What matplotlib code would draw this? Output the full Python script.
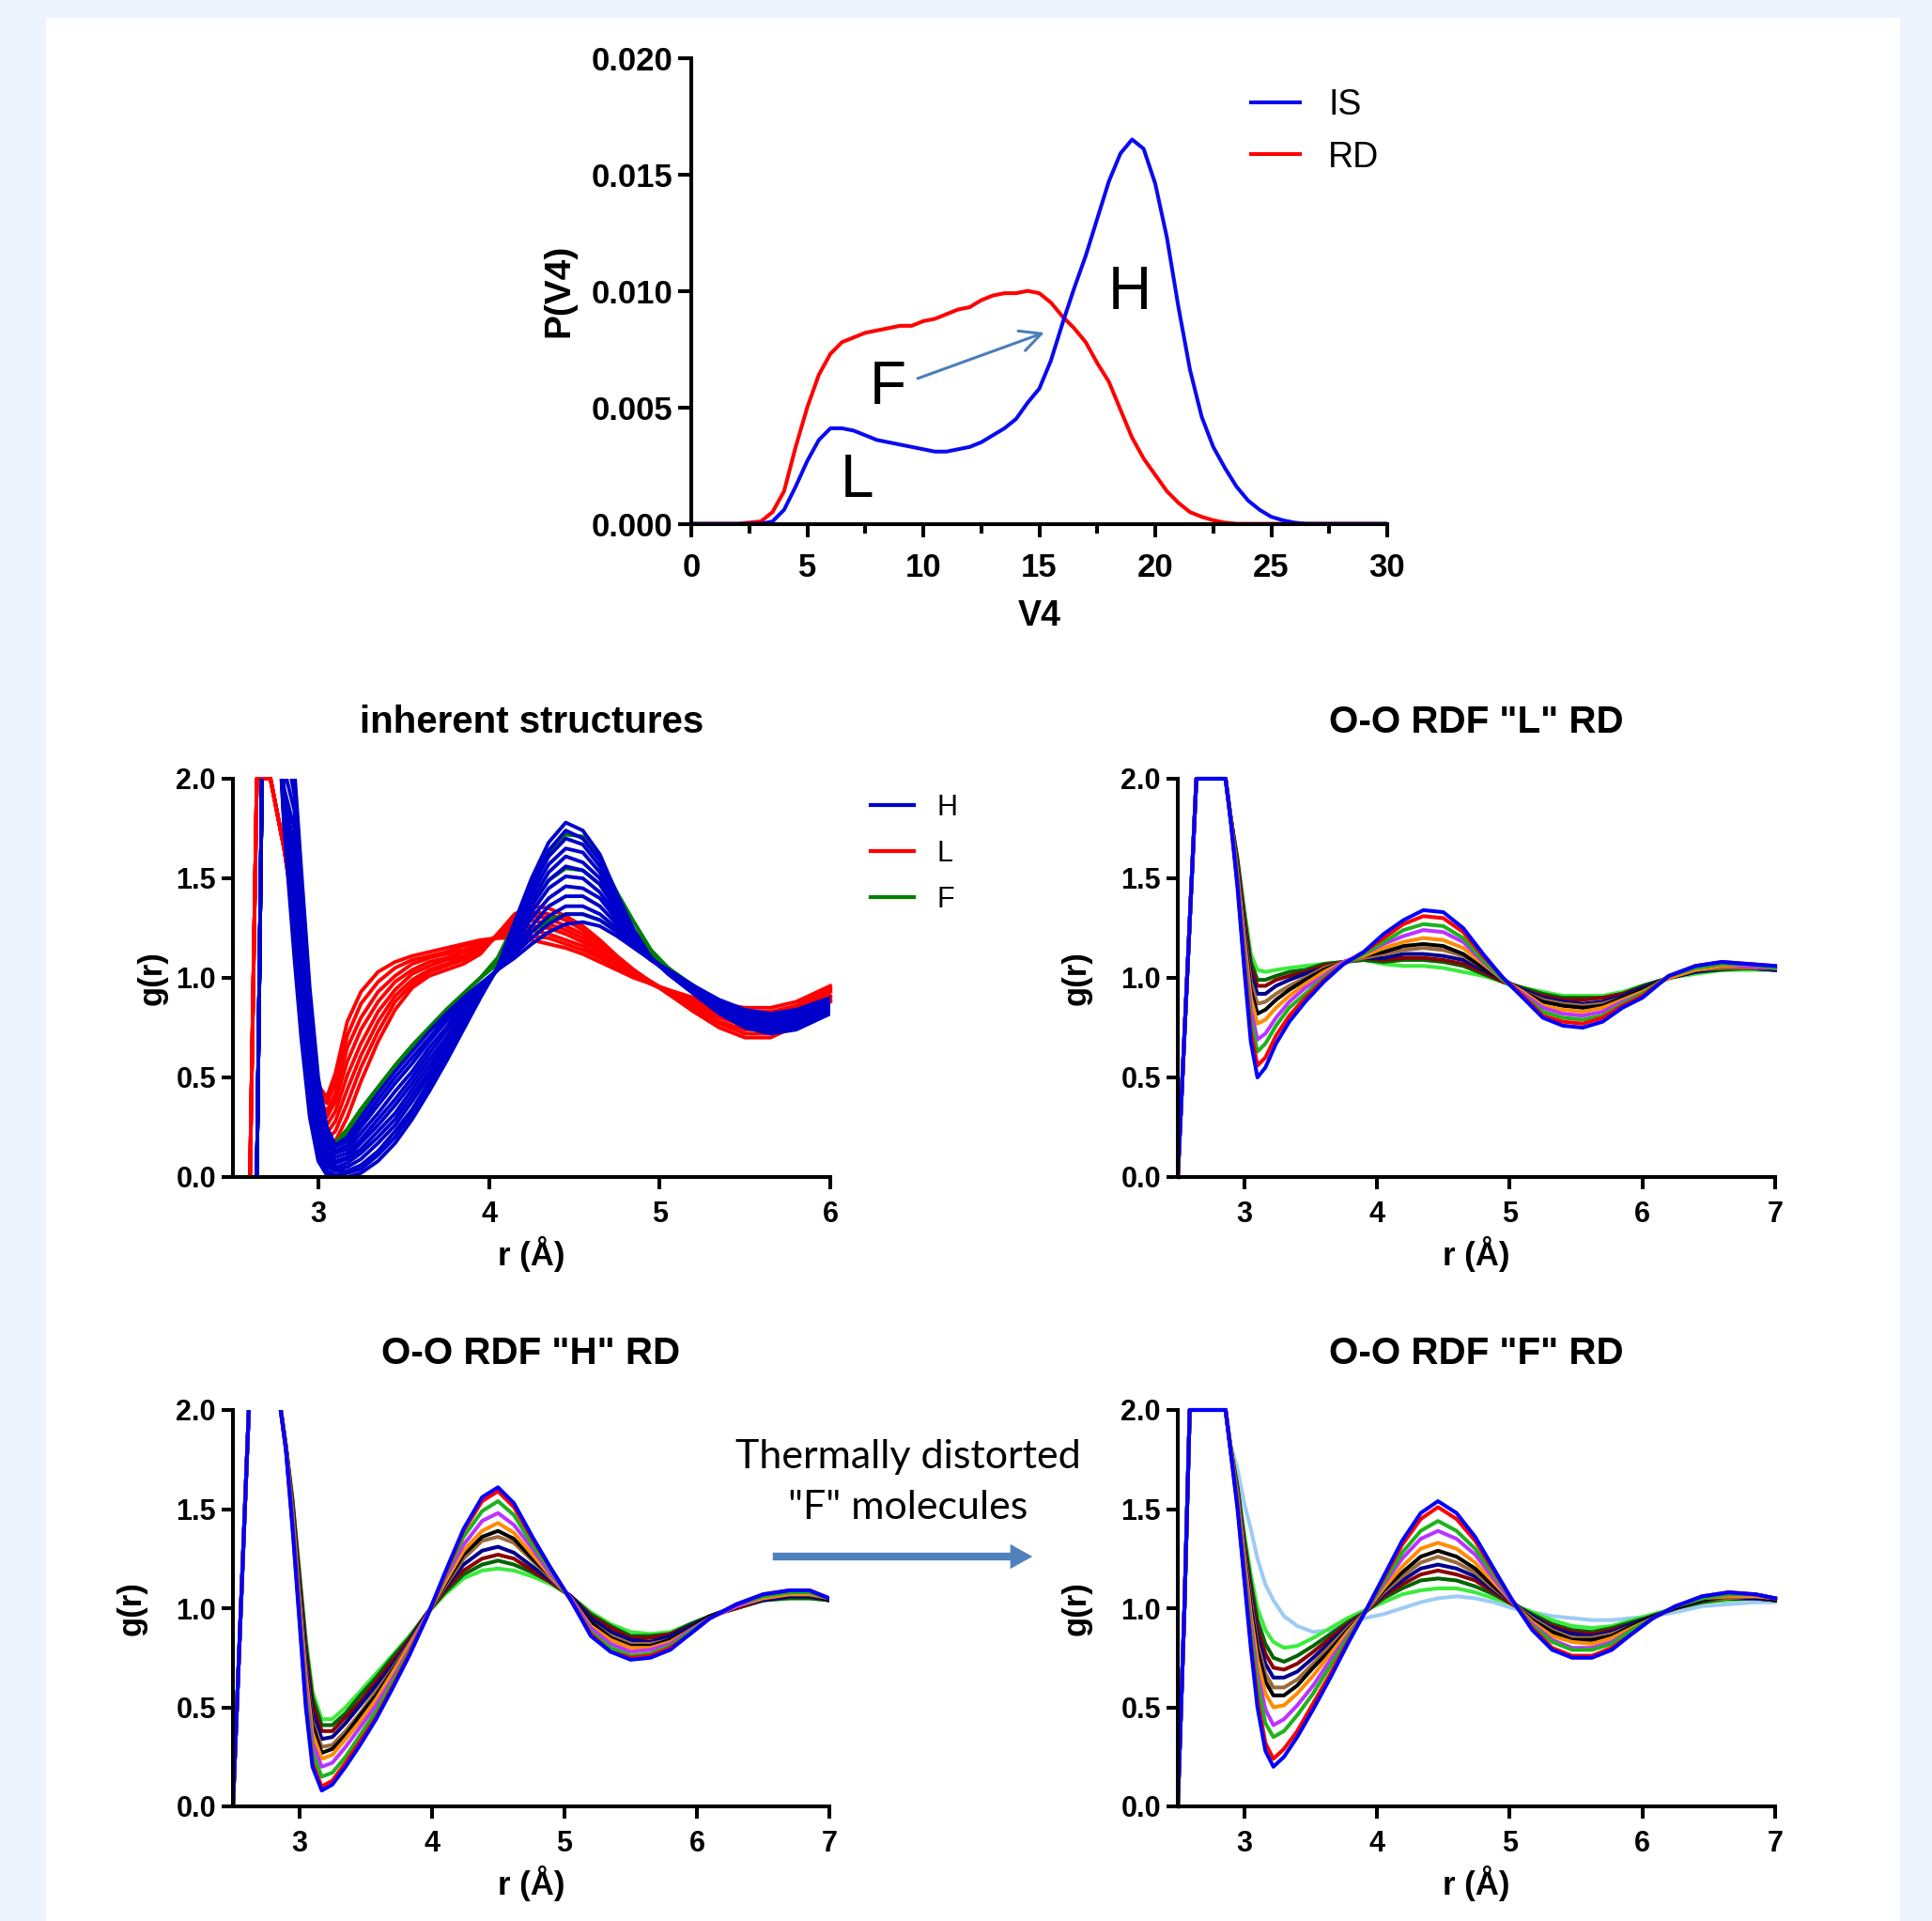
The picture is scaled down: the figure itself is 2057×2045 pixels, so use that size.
import matplotlib
matplotlib.use("Agg")
import matplotlib.pyplot as plt
from matplotlib.patches import Rectangle, FancyArrowPatch
from matplotlib.lines import Line2D
from matplotlib.ticker import FormatStrFormatter, MultipleLocator

# ---------------- data: top panel, P(V4) ----------------
V4 = [0, 1, 2, 3, 3.5, 4, 4.5, 5, 5.5, 6, 6.5, 7, 7.5, 8, 8.5, 9, 9.5, 10, 10.5, 11,
      11.5, 12, 12.5, 13, 13.5, 14, 14.5, 15, 15.5, 16, 16.5, 17, 17.5, 18, 18.5, 19,
      19.5, 20, 20.5, 21, 21.5, 22, 22.5, 23, 23.5, 24, 24.5, 25, 25.5, 26, 26.5, 27,
      28, 29, 30]
P_IS = [0, 0, 0, 0, 0.0001, 0.0006, 0.0016, 0.0027, 0.0036, 0.0041, 0.0041, 0.0040,
        0.0038, 0.0036, 0.0035, 0.0034, 0.0033, 0.0032, 0.0031, 0.0031, 0.0032, 0.0033,
        0.0035, 0.0038, 0.0041, 0.0045, 0.0052, 0.0058, 0.0070, 0.0086, 0.0101, 0.0115,
        0.0131, 0.0147, 0.0159, 0.0165, 0.0161, 0.0146, 0.0123, 0.0093, 0.0066, 0.0046,
        0.0033, 0.0024, 0.0016, 0.0010, 0.0006, 0.0003, 0.00015, 0.00005, 0, 0, 0, 0, 0]
P_RD = [0, 0, 0, 0.0001, 0.0005, 0.0014, 0.0033, 0.0050, 0.0064, 0.0073, 0.0078, 0.0080,
        0.0082, 0.0083, 0.0084, 0.0085, 0.0085, 0.0087, 0.0088, 0.0090, 0.0092, 0.0093,
        0.0096, 0.0098, 0.0099, 0.0099, 0.0100, 0.0099, 0.0095, 0.0089, 0.0084, 0.0078,
        0.0069, 0.0061, 0.0049, 0.0037, 0.0028, 0.0021, 0.0014, 0.0009, 0.0005, 0.0003,
        0.00015, 0.00005, 0, 0, 0, 0, 0, 0, 0, 0, 0, 0, 0]
TOP_LABELS = ["IS", "RD"]
TOP_NOTES = [("H", 18.91, 0.00991), ("F", 8.46, 0.00583), ("L", 7.13, 0.00184)]
TOP_ARROW = [(9.76, 0.00624), (15.22, 0.00821)]

# ---------------- data: inherent structures ----------------
IS_r = [2.50, 2.60, 2.64, 2.67, 2.72, 2.80, 2.86, 2.90, 2.95, 3.00, 3.05, 3.10, 3.17,
        3.25, 3.35, 3.45, 3.55, 3.65, 3.75, 3.85, 3.95, 4.05, 4.15, 4.25, 4.35, 4.45,
        4.55, 4.65, 4.75, 4.85, 4.95, 5.05, 5.20, 5.35, 5.50, 5.65, 5.80, 6.00]
IS_head_H = [0.00, 0.00, 0.00, 2.00, 3.00]
IS_head_L = [0.00, 0.00, 2.00, 2.00, 2.00]
IS_H = [
    [1.75, 1.10, 0.70, 0.30, 0.08, 0.01, 0.00, 0.00, 0.02, 0.08, 0.17, 0.29, 0.43, 0.58, 0.74, 0.90, 1.05, 1.28, 1.50, 1.68, 1.78, 1.74, 1.62, 1.42, 1.24, 1.10, 1.02, 0.92, 0.82, 0.75, 0.72, 0.74, 0.82],
    [1.77, 1.17, 0.77, 0.35, 0.11, 0.03, 0.01, 0.02, 0.04, 0.11, 0.20, 0.32, 0.45, 0.60, 0.75, 0.91, 1.05, 1.27, 1.47, 1.64, 1.74, 1.70, 1.59, 1.40, 1.23, 1.10, 1.02, 0.92, 0.83, 0.76, 0.73, 0.75, 0.83],
    [1.79, 1.24, 0.84, 0.40, 0.15, 0.05, 0.03, 0.03, 0.06, 0.13, 0.23, 0.34, 0.48, 0.62, 0.77, 0.91, 1.05, 1.25, 1.45, 1.61, 1.70, 1.67, 1.56, 1.39, 1.23, 1.10, 1.02, 0.93, 0.83, 0.76, 0.74, 0.76, 0.83],
    [1.81, 1.33, 0.91, 0.46, 0.19, 0.07, 0.04, 0.05, 0.09, 0.17, 0.26, 0.38, 0.51, 0.64, 0.78, 0.92, 1.05, 1.24, 1.42, 1.57, 1.65, 1.63, 1.53, 1.37, 1.22, 1.10, 1.03, 0.93, 0.84, 0.77, 0.75, 0.77, 0.84],
    [1.84, 1.41, 0.99, 0.52, 0.22, 0.09, 0.05, 0.07, 0.12, 0.20, 0.29, 0.41, 0.53, 0.66, 0.79, 0.92, 1.05, 1.22, 1.39, 1.53, 1.61, 1.58, 1.50, 1.35, 1.21, 1.10, 1.03, 0.93, 0.84, 0.78, 0.75, 0.77, 0.85],
    [1.86, 1.49, 1.07, 0.58, 0.26, 0.11, 0.07, 0.09, 0.14, 0.23, 0.32, 0.44, 0.56, 0.68, 0.81, 0.93, 1.05, 1.20, 1.36, 1.49, 1.56, 1.54, 1.47, 1.33, 1.20, 1.10, 1.03, 0.94, 0.85, 0.79, 0.76, 0.78, 0.85],
    [1.88, 1.57, 1.14, 0.64, 0.30, 0.13, 0.08, 0.10, 0.17, 0.26, 0.36, 0.47, 0.59, 0.70, 0.82, 0.94, 1.04, 1.19, 1.33, 1.45, 1.51, 1.50, 1.43, 1.31, 1.19, 1.09, 1.03, 0.94, 0.86, 0.80, 0.77, 0.79, 0.86],
    [1.91, 1.66, 1.23, 0.70, 0.34, 0.16, 0.10, 0.12, 0.19, 0.29, 0.39, 0.50, 0.62, 0.73, 0.84, 0.94, 1.04, 1.17, 1.30, 1.40, 1.46, 1.45, 1.40, 1.29, 1.18, 1.09, 1.03, 0.94, 0.86, 0.81, 0.78, 0.80, 0.87],
    [1.95, 1.75, 1.31, 0.77, 0.38, 0.18, 0.12, 0.14, 0.22, 0.32, 0.43, 0.53, 0.65, 0.75, 0.86, 0.95, 1.04, 1.15, 1.26, 1.36, 1.41, 1.41, 1.36, 1.27, 1.18, 1.09, 1.03, 0.95, 0.87, 0.81, 0.79, 0.81, 0.88],
    [2.05, 1.84, 1.40, 0.83, 0.42, 0.21, 0.13, 0.16, 0.25, 0.36, 0.47, 0.57, 0.68, 0.78, 0.87, 0.96, 1.04, 1.13, 1.23, 1.31, 1.36, 1.36, 1.32, 1.25, 1.17, 1.09, 1.04, 0.95, 0.88, 0.82, 0.80, 0.82, 0.89],
    [2.20, 1.92, 1.47, 0.89, 0.46, 0.23, 0.15, 0.18, 0.27, 0.39, 0.50, 0.60, 0.70, 0.80, 0.89, 0.96, 1.04, 1.12, 1.20, 1.27, 1.32, 1.32, 1.29, 1.23, 1.16, 1.09, 1.04, 0.96, 0.88, 0.83, 0.81, 0.83, 0.89],
    [2.40, 2.05, 1.55, 0.95, 0.50, 0.25, 0.16, 0.20, 0.30, 0.42, 0.53, 0.63, 0.73, 0.82, 0.90, 0.97, 1.04, 1.10, 1.17, 1.23, 1.27, 1.28, 1.26, 1.21, 1.15, 1.09, 1.04, 0.96, 0.89, 0.84, 0.82, 0.84, 0.90],
]
IS_F = [
    [2.40, 1.95, 1.45, 0.85, 0.42, 0.22, 0.17, 0.22, 0.32, 0.43, 0.54, 0.64, 0.74, 0.83, 0.92, 1.00, 1.10, 1.27, 1.46, 1.62, 1.72, 1.71, 1.60, 1.43, 1.28, 1.14, 1.05, 0.94, 0.85, 0.78, 0.75, 0.77, 0.84],
    [2.40, 1.95, 1.45, 0.85, 0.42, 0.22, 0.17, 0.24, 0.34, 0.45, 0.56, 0.66, 0.75, 0.84, 0.92, 1.00, 1.09, 1.22, 1.37, 1.49, 1.55, 1.54, 1.47, 1.35, 1.24, 1.13, 1.05, 0.95, 0.86, 0.80, 0.77, 0.79, 0.86],
    [2.40, 1.95, 1.45, 0.85, 0.42, 0.22, 0.17, 0.24, 0.34, 0.45, 0.56, 0.66, 0.75, 0.84, 0.92, 1.00, 1.07, 1.15, 1.23, 1.29, 1.32, 1.32, 1.29, 1.24, 1.18, 1.11, 1.05, 0.96, 0.88, 0.82, 0.80, 0.82, 0.88],
]
IS_L = [
    [1.65, 1.35, 1.15, 0.75, 0.46, 0.40, 0.52, 0.78, 0.93, 1.03, 1.08, 1.11, 1.13, 1.15, 1.17, 1.19, 1.20, 1.20, 1.19, 1.17, 1.15, 1.12, 1.08, 1.04, 1.00, 0.97, 0.94, 0.90, 0.87, 0.85, 0.85, 0.88, 0.96],
    [1.65, 1.34, 1.13, 0.72, 0.43, 0.37, 0.47, 0.71, 0.87, 0.98, 1.05, 1.09, 1.11, 1.13, 1.16, 1.18, 1.20, 1.22, 1.21, 1.20, 1.17, 1.14, 1.10, 1.05, 1.01, 0.97, 0.94, 0.89, 0.85, 0.83, 0.83, 0.86, 0.95],
    [1.65, 1.34, 1.11, 0.69, 0.39, 0.33, 0.42, 0.65, 0.80, 0.93, 1.01, 1.07, 1.10, 1.12, 1.14, 1.17, 1.21, 1.23, 1.24, 1.22, 1.19, 1.16, 1.11, 1.06, 1.01, 0.97, 0.93, 0.88, 0.84, 0.81, 0.81, 0.85, 0.94],
    [1.65, 1.33, 1.09, 0.67, 0.36, 0.30, 0.38, 0.58, 0.74, 0.88, 0.98, 1.04, 1.08, 1.10, 1.13, 1.16, 1.21, 1.25, 1.26, 1.25, 1.22, 1.18, 1.13, 1.07, 1.02, 0.97, 0.93, 0.87, 0.82, 0.79, 0.79, 0.83, 0.93],
    [1.65, 1.32, 1.06, 0.64, 0.32, 0.26, 0.33, 0.51, 0.67, 0.83, 0.94, 1.02, 1.06, 1.09, 1.11, 1.15, 1.21, 1.27, 1.29, 1.27, 1.24, 1.20, 1.14, 1.08, 1.02, 0.98, 0.93, 0.86, 0.80, 0.76, 0.76, 0.81, 0.91],
    [1.65, 1.31, 1.04, 0.61, 0.29, 0.22, 0.28, 0.44, 0.61, 0.78, 0.91, 0.99, 1.04, 1.07, 1.10, 1.14, 1.21, 1.29, 1.31, 1.30, 1.26, 1.22, 1.16, 1.09, 1.03, 0.98, 0.93, 0.85, 0.78, 0.74, 0.74, 0.79, 0.90],
    [1.65, 1.31, 1.02, 0.58, 0.26, 0.19, 0.23, 0.37, 0.55, 0.73, 0.88, 0.97, 1.03, 1.06, 1.09, 1.13, 1.22, 1.30, 1.33, 1.32, 1.29, 1.24, 1.17, 1.10, 1.03, 0.98, 0.92, 0.84, 0.77, 0.72, 0.72, 0.78, 0.89],
    [1.65, 1.30, 1.00, 0.55, 0.22, 0.15, 0.18, 0.30, 0.48, 0.68, 0.84, 0.95, 1.01, 1.04, 1.07, 1.12, 1.22, 1.32, 1.36, 1.35, 1.31, 1.26, 1.19, 1.11, 1.04, 0.98, 0.92, 0.83, 0.75, 0.70, 0.70, 0.76, 0.88],
]
IS_LEGEND = ["H", "L", "F"]

# ---------------- data: O-O RDF "L" RD ----------------
L_r = [2.50, 2.57, 2.64, 2.75, 2.86, 2.90, 2.95, 3.00, 3.05, 3.10, 3.16, 3.24, 3.34, 3.46,
       3.60, 3.75, 3.90, 4.05, 4.20, 4.35, 4.50, 4.65, 4.80, 4.95, 5.10, 5.25, 5.40, 5.55,
       5.70, 5.85, 6.00, 6.20, 6.40, 6.60, 6.80, 7.00]
L_head = [0.00, 1.00, 2.00, 2.00, 2.00]
L_rows = [
    [1.78, 1.45, 1.05, 0.68, 0.50, 0.55, 0.67, 0.78, 0.88, 0.98, 1.07, 1.13, 1.22, 1.29, 1.34, 1.33, 1.25, 1.12, 1.00, 0.90, 0.80, 0.76, 0.75, 0.78, 0.85, 0.90, 1.01, 1.06, 1.08, 1.07, 1.06],
    [1.78, 1.47, 1.08, 0.73, 0.56, 0.60, 0.71, 0.81, 0.90, 0.99, 1.07, 1.13, 1.20, 1.27, 1.31, 1.30, 1.23, 1.11, 1.00, 0.91, 0.81, 0.78, 0.77, 0.80, 0.86, 0.91, 1.01, 1.06, 1.08, 1.07, 1.06],
    [1.79, 1.49, 1.12, 0.79, 0.63, 0.67, 0.76, 0.85, 0.92, 1.00, 1.07, 1.12, 1.18, 1.24, 1.27, 1.26, 1.20, 1.09, 0.99, 0.91, 0.83, 0.80, 0.79, 0.81, 0.87, 0.92, 1.01, 1.05, 1.07, 1.07, 1.05],
    [1.79, 1.50, 1.16, 0.84, 0.69, 0.72, 0.80, 0.88, 0.95, 1.01, 1.08, 1.12, 1.17, 1.21, 1.24, 1.23, 1.18, 1.08, 0.99, 0.92, 0.85, 0.82, 0.81, 0.83, 0.88, 0.92, 1.01, 1.05, 1.07, 1.06, 1.05],
    [1.79, 1.52, 1.20, 0.90, 0.77, 0.79, 0.85, 0.91, 0.97, 1.03, 1.08, 1.11, 1.15, 1.18, 1.20, 1.19, 1.15, 1.07, 0.99, 0.93, 0.86, 0.84, 0.83, 0.85, 0.89, 0.93, 1.00, 1.04, 1.06, 1.06, 1.05],
    [1.79, 1.54, 1.23, 0.94, 0.82, 0.84, 0.89, 0.94, 0.99, 1.04, 1.08, 1.11, 1.13, 1.16, 1.17, 1.16, 1.12, 1.05, 0.99, 0.93, 0.88, 0.86, 0.85, 0.86, 0.90, 0.94, 1.00, 1.04, 1.06, 1.06, 1.05],
    [1.79, 1.55, 1.25, 0.98, 0.87, 0.88, 0.92, 0.96, 1.00, 1.05, 1.08, 1.10, 1.12, 1.14, 1.15, 1.14, 1.11, 1.05, 0.99, 0.93, 0.89, 0.87, 0.86, 0.87, 0.90, 0.94, 1.00, 1.04, 1.05, 1.05, 1.05],
    [1.80, 1.57, 1.28, 1.02, 0.92, 0.92, 0.96, 0.99, 1.02, 1.05, 1.08, 1.10, 1.10, 1.12, 1.12, 1.11, 1.09, 1.04, 0.99, 0.94, 0.90, 0.88, 0.87, 0.88, 0.91, 0.95, 1.00, 1.03, 1.05, 1.05, 1.04],
    [1.80, 1.58, 1.31, 1.05, 0.96, 0.96, 0.99, 1.01, 1.03, 1.06, 1.08, 1.10, 1.09, 1.10, 1.10, 1.09, 1.07, 1.03, 0.98, 0.94, 0.91, 0.89, 0.89, 0.90, 0.92, 0.95, 1.00, 1.03, 1.05, 1.05, 1.04],
    [1.80, 1.59, 1.32, 1.08, 0.99, 0.99, 1.01, 1.03, 1.04, 1.07, 1.08, 1.09, 1.08, 1.09, 1.09, 1.08, 1.06, 1.02, 0.98, 0.95, 0.92, 0.90, 0.90, 0.90, 0.92, 0.96, 1.00, 1.03, 1.04, 1.05, 1.04],
    [1.80, 1.60, 1.35, 1.12, 1.04, 1.03, 1.04, 1.05, 1.06, 1.07, 1.08, 1.09, 1.07, 1.06, 1.06, 1.05, 1.03, 1.01, 0.98, 0.95, 0.93, 0.91, 0.91, 0.91, 0.93, 0.96, 1.00, 1.02, 1.04, 1.04, 1.04],
]

# ---------------- data: O-O RDF "H" RD ----------------
H_r = [2.50, 2.56, 2.62, 2.70, 2.82, 2.90, 2.95, 3.00, 3.05, 3.10, 3.17, 3.25, 3.35, 3.46,
       3.58, 3.70, 3.83, 3.96, 4.10, 4.24, 4.38, 4.50, 4.62, 4.76, 4.90, 5.05, 5.20, 5.35,
       5.50, 5.65, 5.80, 5.95, 6.10, 6.30, 6.50, 6.70, 6.85, 7.00]
H_head = [0.00, 1.00, 2.00, 3.20, 2.20]
H_rows = [
    [1.80, 1.40, 0.95, 0.50, 0.20, 0.08, 0.11, 0.20, 0.31, 0.44, 0.59, 0.76, 0.95, 1.18, 1.40, 1.56, 1.61, 1.53, 1.36, 1.20, 1.04, 0.86, 0.78, 0.74, 0.75, 0.79, 0.87, 0.95, 1.02, 1.07, 1.09, 1.09, 1.05],
    [1.80, 1.41, 0.97, 0.52, 0.22, 0.10, 0.13, 0.22, 0.33, 0.45, 0.60, 0.77, 0.95, 1.17, 1.39, 1.54, 1.59, 1.51, 1.35, 1.20, 1.04, 0.87, 0.78, 0.75, 0.76, 0.80, 0.87, 0.95, 1.02, 1.07, 1.09, 1.09, 1.05],
    [1.80, 1.43, 1.00, 0.56, 0.27, 0.15, 0.17, 0.25, 0.36, 0.48, 0.62, 0.78, 0.95, 1.16, 1.36, 1.49, 1.54, 1.47, 1.32, 1.19, 1.04, 0.88, 0.80, 0.76, 0.77, 0.81, 0.88, 0.95, 1.02, 1.06, 1.08, 1.08, 1.05],
    [1.81, 1.45, 1.03, 0.61, 0.32, 0.20, 0.22, 0.30, 0.40, 0.51, 0.64, 0.79, 0.96, 1.15, 1.32, 1.44, 1.48, 1.42, 1.30, 1.17, 1.05, 0.90, 0.82, 0.78, 0.79, 0.82, 0.89, 0.95, 1.01, 1.06, 1.08, 1.08, 1.05],
    [1.81, 1.47, 1.06, 0.66, 0.37, 0.24, 0.26, 0.34, 0.43, 0.54, 0.67, 0.81, 0.96, 1.13, 1.29, 1.39, 1.43, 1.38, 1.27, 1.16, 1.05, 0.91, 0.84, 0.80, 0.80, 0.83, 0.89, 0.95, 1.01, 1.05, 1.07, 1.07, 1.05],
    [1.81, 1.48, 1.09, 0.69, 0.41, 0.27, 0.29, 0.36, 0.46, 0.56, 0.68, 0.81, 0.96, 1.12, 1.27, 1.36, 1.39, 1.35, 1.25, 1.16, 1.05, 0.93, 0.85, 0.81, 0.81, 0.84, 0.90, 0.96, 1.01, 1.05, 1.07, 1.07, 1.04],
    [1.81, 1.49, 1.10, 0.71, 0.43, 0.30, 0.31, 0.38, 0.47, 0.58, 0.69, 0.82, 0.96, 1.11, 1.25, 1.34, 1.36, 1.33, 1.24, 1.15, 1.05, 0.93, 0.86, 0.82, 0.82, 0.84, 0.90, 0.96, 1.01, 1.05, 1.07, 1.07, 1.04],
    [1.81, 1.51, 1.13, 0.76, 0.48, 0.34, 0.35, 0.42, 0.51, 0.61, 0.71, 0.83, 0.97, 1.10, 1.22, 1.29, 1.31, 1.28, 1.21, 1.14, 1.06, 0.95, 0.88, 0.84, 0.83, 0.86, 0.91, 0.96, 1.01, 1.04, 1.06, 1.06, 1.04],
    [1.82, 1.53, 1.16, 0.79, 0.52, 0.38, 0.38, 0.45, 0.53, 0.63, 0.73, 0.84, 0.97, 1.09, 1.19, 1.25, 1.27, 1.25, 1.19, 1.13, 1.06, 0.96, 0.90, 0.85, 0.85, 0.87, 0.91, 0.96, 1.00, 1.04, 1.06, 1.06, 1.04],
    [1.82, 1.54, 1.18, 0.82, 0.55, 0.41, 0.41, 0.47, 0.56, 0.65, 0.75, 0.85, 0.97, 1.08, 1.17, 1.22, 1.24, 1.22, 1.18, 1.13, 1.06, 0.97, 0.91, 0.86, 0.86, 0.87, 0.92, 0.96, 1.00, 1.04, 1.05, 1.05, 1.04],
    [1.82, 1.55, 1.20, 0.85, 0.58, 0.44, 0.44, 0.50, 0.58, 0.67, 0.76, 0.86, 0.97, 1.07, 1.15, 1.19, 1.20, 1.19, 1.16, 1.12, 1.06, 0.98, 0.92, 0.88, 0.87, 0.88, 0.92, 0.96, 1.00, 1.04, 1.05, 1.05, 1.04],
]

# ---------------- data: O-O RDF "F" RD ----------------
F_r = [2.50, 2.55, 2.59, 2.72, 2.86, 2.90, 2.95, 3.00, 3.05, 3.10, 3.16, 3.22, 3.30, 3.40,
       3.52, 3.65, 3.78, 3.91, 4.05, 4.19, 4.33, 4.46, 4.60, 4.74, 4.88, 5.02, 5.17, 5.32,
       5.47, 5.62, 5.77, 5.92, 6.08, 6.25, 6.45, 6.65, 6.85, 7.00]
F_head = [0.00, 1.00, 2.00, 2.00, 2.00]
F_rows = [
    [1.78, 1.50, 1.15, 0.80, 0.50, 0.28, 0.20, 0.25, 0.35, 0.49, 0.65, 0.82, 0.98, 1.16, 1.34, 1.48, 1.54, 1.48, 1.36, 1.20, 1.04, 0.89, 0.79, 0.75, 0.75, 0.79, 0.87, 0.95, 1.01, 1.06, 1.08, 1.07, 1.05],
    [1.78, 1.51, 1.17, 0.83, 0.54, 0.32, 0.24, 0.29, 0.38, 0.52, 0.67, 0.83, 0.98, 1.15, 1.32, 1.45, 1.51, 1.45, 1.34, 1.19, 1.04, 0.90, 0.80, 0.76, 0.76, 0.80, 0.87, 0.95, 1.01, 1.06, 1.08, 1.07, 1.05],
    [1.79, 1.53, 1.20, 0.89, 0.62, 0.42, 0.35, 0.38, 0.46, 0.57, 0.71, 0.85, 0.98, 1.13, 1.28, 1.39, 1.44, 1.39, 1.30, 1.17, 1.04, 0.91, 0.83, 0.79, 0.79, 0.82, 0.89, 0.95, 1.01, 1.05, 1.07, 1.07, 1.05],
    [1.79, 1.54, 1.23, 0.93, 0.67, 0.49, 0.41, 0.44, 0.51, 0.61, 0.74, 0.86, 0.98, 1.12, 1.25, 1.35, 1.39, 1.35, 1.27, 1.15, 1.03, 0.92, 0.84, 0.80, 0.80, 0.83, 0.89, 0.95, 1.01, 1.05, 1.07, 1.07, 1.05],
    [1.79, 1.56, 1.26, 0.97, 0.74, 0.57, 0.50, 0.51, 0.57, 0.66, 0.77, 0.88, 0.98, 1.10, 1.21, 1.30, 1.33, 1.30, 1.23, 1.13, 1.03, 0.93, 0.86, 0.83, 0.82, 0.85, 0.90, 0.95, 1.01, 1.05, 1.06, 1.06, 1.05],
    [1.79, 1.57, 1.28, 1.01, 0.79, 0.63, 0.56, 0.56, 0.61, 0.70, 0.79, 0.89, 0.98, 1.09, 1.18, 1.26, 1.29, 1.26, 1.20, 1.11, 1.03, 0.94, 0.88, 0.84, 0.84, 0.86, 0.91, 0.96, 1.00, 1.04, 1.06, 1.06, 1.04],
    [1.79, 1.58, 1.30, 1.04, 0.82, 0.67, 0.60, 0.60, 0.64, 0.72, 0.81, 0.90, 0.98, 1.08, 1.16, 1.23, 1.26, 1.23, 1.18, 1.10, 1.03, 0.95, 0.89, 0.85, 0.85, 0.87, 0.91, 0.96, 1.00, 1.04, 1.05, 1.06, 1.04],
    [1.79, 1.59, 1.32, 1.07, 0.86, 0.72, 0.65, 0.65, 0.68, 0.75, 0.83, 0.91, 0.98, 1.07, 1.14, 1.20, 1.22, 1.20, 1.16, 1.09, 1.03, 0.96, 0.90, 0.87, 0.86, 0.88, 0.92, 0.96, 1.00, 1.04, 1.05, 1.05, 1.04],
    [1.80, 1.60, 1.33, 1.10, 0.90, 0.77, 0.70, 0.69, 0.72, 0.78, 0.85, 0.92, 0.98, 1.06, 1.12, 1.17, 1.19, 1.17, 1.14, 1.08, 1.02, 0.96, 0.91, 0.88, 0.87, 0.89, 0.92, 0.96, 1.00, 1.04, 1.05, 1.05, 1.04],
    [1.80, 1.61, 1.35, 1.13, 0.94, 0.82, 0.75, 0.73, 0.76, 0.81, 0.87, 0.93, 0.98, 1.05, 1.10, 1.14, 1.15, 1.14, 1.11, 1.07, 1.02, 0.97, 0.92, 0.89, 0.88, 0.90, 0.93, 0.96, 1.00, 1.03, 1.05, 1.05, 1.04],
    [1.80, 1.62, 1.38, 1.17, 1.00, 0.89, 0.83, 0.80, 0.81, 0.85, 0.90, 0.95, 0.99, 1.03, 1.07, 1.09, 1.10, 1.10, 1.08, 1.05, 1.02, 0.98, 0.94, 0.91, 0.90, 0.91, 0.94, 0.97, 1.00, 1.03, 1.04, 1.05, 1.04],
    [1.82, 1.70, 1.53, 1.40, 1.25, 1.12, 1.04, 0.96, 0.91, 0.88, 0.89, 0.92, 0.95, 0.97, 1.00, 1.03, 1.05, 1.06, 1.05, 1.03, 1.00, 0.98, 0.96, 0.95, 0.94, 0.94, 0.95, 0.96, 0.98, 1.01, 1.02, 1.03, 1.03],
]

RDF_COLORS = ['#0000FF', '#FF0000', '#1DB31D', '#BB33FF', '#FF8C00', '#000000',
              '#9C6B3A', '#000090', '#8B0000', '#006400', '#3CEB3C', '#9CCBF5']
IS_COLORS = {"H": '#0000CC', "L": '#FF0000', "F": '#008000'}

PANEL_TITLES = ['inherent structures', 'O-O RDF "L" RD', 'O-O RDF "H" RD', 'O-O RDF "F" RD']
NOTE_LINES = ['Thermally distorted', '"F" molecules']

# ---------------- figure ----------------
plt.rcParams['font.family'] = ['Liberation Sans', 'DejaVu Sans']
W, H = 2057, 2045
DPI = 100
fig = plt.figure(figsize=(W / DPI, H / DPI), dpi=DPI)
fig.patch.set_facecolor('#EDF4FD')
fig.add_artist(Rectangle((49 / W, 0), (2023 - 49) / W, 1 - 19 / H, transform=fig.transFigure,
                         facecolor='white', edgecolor='none', zorder=-10))


def ax_px(left, top, right, bottom):
    return fig.add_axes([left / W, 1 - bottom / H, (right - left) / W, (bottom - top) / H])


def style(ax, xlim, xticks, ylim, yticks, yfmt, fs, ticklen, xpad, ypad):
    ax.set_facecolor('none')
    ax.set_xlim(*xlim)
    ax.set_ylim(*ylim)
    ax.set_xticks(xticks)
    ax.set_yticks(yticks)
    ax.yaxis.set_major_formatter(FormatStrFormatter(yfmt))
    ax.xaxis.set_major_formatter(FormatStrFormatter('%g'))
    for s in ('top', 'right'):
        ax.spines[s].set_visible(False)
    for s in ('left', 'bottom'):
        ax.spines[s].set_linewidth(2.9)
        ax.spines[s].set_capstyle('projecting')
        ax.spines[s].set_zorder(5)
    ax.tick_params(which='major', direction='out', length=ticklen, width=2.9, labelsize=fs)
    ax.tick_params(axis='x', pad=xpad)
    ax.tick_params(axis='y', pad=ypad)
    for lab in ax.get_xticklabels() + ax.get_yticklabels():
        lab.set_fontweight('bold')


# ---- top panel ----
ax0 = ax_px(736, 61.7, 1477, 557.6)
l_is, = ax0.plot(V4, P_IS, color='#0A0AF0', lw=2.9, label=TOP_LABELS[0], zorder=3)
l_rd, = ax0.plot(V4, P_RD, color='#FF0000', lw=2.9, label=TOP_LABELS[1], zorder=2)
style(ax0, (0, 30), [0, 5, 10, 15, 20, 25, 30], (0, 0.020),
      [0, 0.005, 0.010, 0.015, 0.020], '%.3f', 25, 10, 12, 4)
ax0.xaxis.set_minor_locator(MultipleLocator(2.5))
ax0.tick_params(which='minor', direction='out', length=7, width=2.9)
ax0.set_xlabel('V4', fontsize=27, fontweight='bold', labelpad=12)
ax0.set_ylabel('P(V4)', fontsize=28, fontweight='bold', labelpad=12)
ax0.legend(handles=[l_is, l_rd], loc='upper left', bbox_to_anchor=(0.804, 0.934),
           frameon=False, fontsize=27, handlelength=1.4, handletextpad=0.8,
           labelspacing=0.51, borderpad=0, borderaxespad=0)
for txt, x, y in TOP_NOTES:
    ax0.text(x, y, txt, fontsize=46, ha='center', va='center')
ax0.annotate('', xy=TOP_ARROW[1], xytext=TOP_ARROW[0],
             arrowprops=dict(arrowstyle='->,head_length=0.8,head_width=0.4', color='#4A7EBB',
                             lw=2.2, shrinkA=0, shrinkB=0, mutation_scale=20))

# ---- inherent structures ----
ax1 = ax_px(248, 829, 884, 1253)
for row in IS_L:
    ax1.plot(IS_r, IS_head_L + row, color=IS_COLORS['L'], lw=2.8, clip_on=False)
for row in IS_F:
    ax1.plot(IS_r, IS_head_H + row, color=IS_COLORS['F'], lw=2.8)
for row in IS_H:
    ax1.plot(IS_r, IS_head_H + row, color=IS_COLORS['H'], lw=2.8)
style(ax1, (2.5, 6), [3, 4, 5, 6], (0, 2), [0, 0.5, 1.0, 1.5, 2.0], '%.1f', 22, 9, 9, 4)
ax1.set_title(PANEL_TITLES[0], fontsize=29, fontweight='bold', pad=35)
ax1.set_xlabel('r (Å)', fontsize=25, fontweight='bold', labelpad=6)
ax1.set_ylabel('g(r)', fontsize=25, fontweight='bold', labelpad=6)
is_handles = [Line2D([], [], color=IS_COLORS[k], lw=3) for k in IS_LEGEND]
ax1.legend(is_handles, IS_LEGEND, loc='upper left', bbox_to_anchor=(1.068, 0.963),
           frameon=False, fontsize=22, handlelength=1.5, handletextpad=0.8,
           labelspacing=0.63, borderpad=0, borderaxespad=0)


def rdf_panel(box, r, head, rows, title, clip):
    ax = ax_px(*box)
    for i in range(len(rows) - 1, -1, -1):
        ax.plot(r, head + rows[i], color=RDF_COLORS[i], lw=2.9, clip_on=clip)
    style(ax, (2.5, 7), [3, 4, 5, 6, 7], (0, 2), [0, 0.5, 1.0, 1.5, 2.0], '%.1f', 22, 9, 9, 4)
    ax.set_title(title, fontsize=29, fontweight='bold', pad=35)
    ax.set_xlabel('r (Å)', fontsize=25, fontweight='bold', labelpad=6)
    ax.set_ylabel('g(r)', fontsize=25, fontweight='bold', labelpad=22)
    return ax


ax2 = rdf_panel((1254, 829, 1890, 1253), L_r, L_head, L_rows, PANEL_TITLES[1], False)
ax3 = rdf_panel((248, 1501, 883, 1923), H_r, H_head, H_rows, PANEL_TITLES[2], True)
ax4 = rdf_panel((1254, 1501, 1890, 1923), F_r, F_head, F_rows, PANEL_TITLES[3], False)

# ---- middle note and arrow ----
fig.text(967 / W, 1 - 1551 / H, NOTE_LINES[0], ha='center', va='center', fontsize=31,
         family=['Lato', 'DejaVu Sans'])
fig.text(967 / W, 1 - 1605 / H, NOTE_LINES[1], ha='center', va='center', fontsize=31,
         family=['Lato', 'DejaVu Sans'])
fig.add_artist(FancyArrowPatch((820 / W, 1 - 1657 / H), (1102 / W, 1 - 1657 / H),
                               transform=fig.transFigure,
                               arrowstyle='simple,head_length=17,head_width=19,tail_width=6',
                               mutation_scale=1, color='#4F81BD', lw=0))

fig.savefig('out.png', dpi=DPI, facecolor=fig.get_facecolor())
